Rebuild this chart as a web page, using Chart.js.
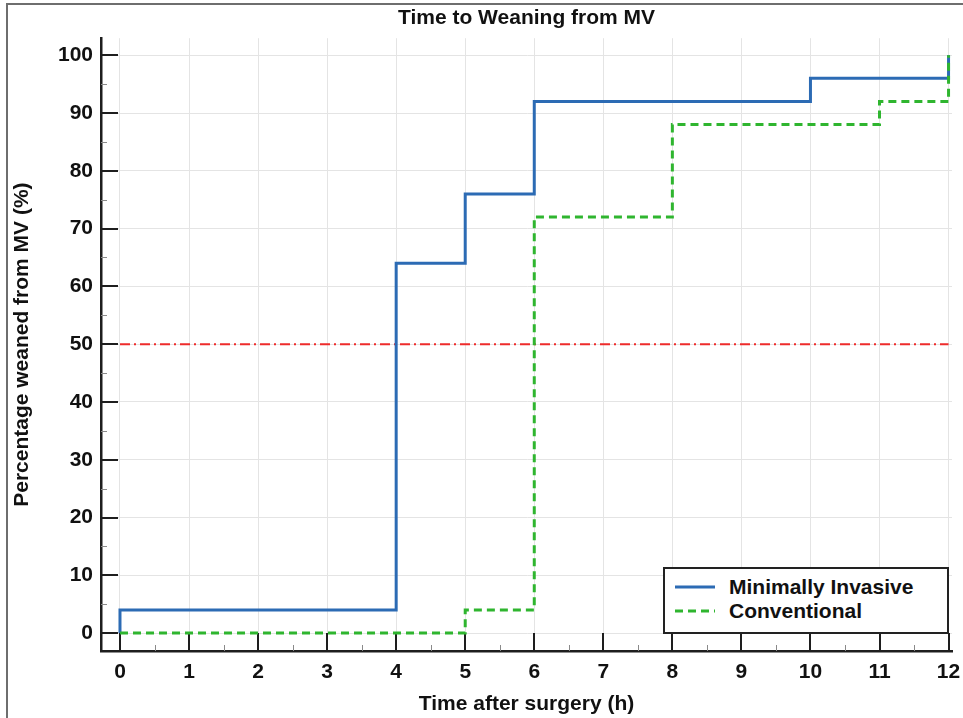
<!DOCTYPE html>
<html lang="en">
<head>
  <meta charset="UTF-8" />
  <title>Time to Weaning from MV</title>
  <script src="https://cdn.jsdelivr.net/npm/chart.js"></script>
  <style>
    body {
      margin: 0;
      padding: 0;
      background: #ffffff;
      font-family: 'Liberation Sans', Arial, sans-serif;
    }
    .wrap {
      position: relative;
      width: 963px;
      height: 718px;
      overflow: hidden;
    }
    .legend {
      position: absolute;
      left: 663px;
      top: 567px;
      width: 286px;
      height: 67px;
      box-sizing: border-box;
      border: 2px solid #222;
      background: #fff;
      padding: 6px 0 0 10px;
    }
    .legend .row {
      display: flex;
      align-items: center;
      height: 24px;
      font-weight: bold;
      font-size: 21px;
      color: #111;
    }
    .legend svg {
      margin-right: 14px;
    }
  </style>
</head>
<body>
  <div class="wrap">
    <canvas id="kmChart" width="963" height="718"></canvas>
    <div class="legend" id="legend"></div>
  </div>

  <script>
    // series (time in hours, cumulative % weaned)
    const miLabel = "Minimally Invasive";
    const miTimes = [0, 0, 4, 5, 6, 10, 12];
    const miPct = [0, 4, 64, 76, 92, 96, 100];

    const convLabel = "Conventional";
    const convTimes = [0, 5, 6, 8, 11, 12];
    const convPct = [0, 4, 72, 88, 92, 100];

    const medianTimes = [0, 12];
    const medianPct = [50, 50];

    const xTicks = [0, 1, 2, 3, 4, 5, 6, 7, 8, 9, 10, 11, 12];
    const yTicks = [0, 10, 20, 30, 40, 50, 60, 70, 80, 90, 100];

    const chartTitle = "Time to Weaning from MV";
    const xTitle = "Time after surgery (h)";
    const yTitle = "Percentage weaned from MV (%)";

    const blue = "#2c6bb4";
    const green = "#2fb52f";
    const red = "#ee2b2b";
    const FONT = "'Liberation Sans', Arial, sans-serif";

    function toPoints(xs, ys) {
      return xs.map((x, i) => ({ x: x, y: ys[i] }));
    }

    // frame + inward tick marks
    const axisDecor = {
      id: 'axisDecor',
      beforeDraw(chart) {
        const ctx = chart.ctx;
        ctx.save();
        ctx.fillStyle = '#fff';
        ctx.fillRect(0, 0, chart.width, chart.height);
        ctx.strokeStyle = '#6e6e6e';
        ctx.lineWidth = 2;
        ctx.beginPath();
        ctx.moveTo(7, chart.height);
        ctx.lineTo(7, 4);
        ctx.lineTo(chart.width, 4);
        ctx.stroke();
        ctx.restore();
      },
      beforeDatasetsDraw(chart) {
        const ctx = chart.ctx;
        const x = chart.scales.x, y = chart.scales.y;
        const bottom = chart.chartArea.bottom, left = chart.chartArea.left;
        ctx.save();
        // minor
        ctx.strokeStyle = '#8a8a8a';
        ctx.lineWidth = 1;
        ctx.beginPath();
        for (let i = 0; i < xTicks.length - 1; i++) {
          const px = Math.round(x.getPixelForValue(xTicks[i] + 0.5)) + 0.5;
          ctx.moveTo(px, bottom);
          ctx.lineTo(px, bottom - 6);
        }
        for (let i = 0; i < yTicks.length - 1; i++) {
          const py = Math.round(y.getPixelForValue(yTicks[i] + 5)) + 0.5;
          ctx.moveTo(left, py);
          ctx.lineTo(left + 6, py);
        }
        ctx.stroke();
        // major
        ctx.strokeStyle = '#1e1e1e';
        ctx.lineWidth = 2;
        ctx.beginPath();
        xTicks.forEach(v => {
          const px = Math.round(x.getPixelForValue(v));
          ctx.moveTo(px, bottom);
          ctx.lineTo(px, bottom - 18);
        });
        yTicks.forEach(v => {
          const py = Math.round(y.getPixelForValue(v));
          ctx.moveTo(left, py);
          ctx.lineTo(left + 17, py);
        });
        ctx.stroke();
        ctx.restore();
      }
    };

    const chart = new Chart(document.getElementById('kmChart').getContext('2d'), {
      type: 'line',
      data: {
        datasets: [
          {
            label: 'median',
            data: toPoints(medianTimes, medianPct),
            borderColor: red,
            borderWidth: 2,
            borderDash: [10, 4, 2, 4],
            pointRadius: 0,
            fill: false,
            order: 2
          },
          {
            label: miLabel,
            data: toPoints(miTimes, miPct),
            borderColor: blue,
            borderWidth: 3,
            stepped: 'before',
            pointRadius: 0,
            fill: false,
            order: 1
          },
          {
            label: convLabel,
            data: toPoints(convTimes, convPct),
            borderColor: green,
            borderWidth: 3,
            borderDash: [8, 5],
            stepped: 'before',
            pointRadius: 0,
            fill: false,
            order: 0
          }
        ]
      },
      options: {
        responsive: false,
        animation: false,
        devicePixelRatio: 1,
        layout: { padding: { left: 0, right: 11, top: 0, bottom: 0 } },
        plugins: {
          legend: { display: false },
          tooltip: { enabled: false },
          title: {
            display: true,
            fullSize: false,
            text: chartTitle,
            color: '#111',
            font: { family: FONT, size: 21, weight: 'bold', lineHeight: 1.2 },
            padding: { top: 6, bottom: 7 }
          }
        },
        scales: {
          x: {
            type: 'linear',
            min: -0.275,
            max: 12.05,
            afterBuildTicks: s => { s.ticks = xTicks.map(v => ({ value: v })); },
            afterFit: s => { s.height = 67; s.paddingLeft = 0; s.paddingRight = 0; },
            grid: { color: '#e4e4e4', drawTicks: false },
            border: { display: true, color: '#1e1e1e', width: 2.5 },
            ticks: {
              color: '#111',
              padding: 9,
              font: { family: FONT, size: 21, weight: 'bold' }
            },
            title: {
              display: true,
              text: xTitle,
              color: '#111',
              font: { family: FONT, size: 21, weight: 'bold', lineHeight: 1.2 },
              padding: { top: 0, bottom: 1 }
            }
          },
          y: {
            min: -3.1,
            max: 102.95,
            afterBuildTicks: s => { s.ticks = yTicks.map(v => ({ value: v })); },
            afterFit: s => { s.width = 101; s.paddingTop = 0; s.paddingBottom = 0; },
            grid: { color: '#e4e4e4', drawTicks: false },
            border: { display: true, color: '#1e1e1e', width: 2.5 },
            ticks: {
              color: '#111',
              padding: 8,
              font: { family: FONT, size: 21, weight: 'bold' }
            },
            title: {
              display: true,
              text: yTitle,
              color: '#111',
              font: { family: FONT, size: 21, weight: 'bold', lineHeight: 1.2 },
              padding: { top: 10, bottom: 0 }
            }
          }
        }
      },
      plugins: [axisDecor]
    });

    // legend box (bottom right inside the plot)
    const legendItems = [
      { text: miLabel, color: blue, dash: '' },
      { text: convLabel, color: green, dash: '8,5' }
    ];
    const legendEl = document.getElementById('legend');
    legendItems.forEach(item => {
      const row = document.createElement('div');
      row.className = 'row';
      row.innerHTML =
        '<svg width="40" height="6"><line x1="0" y1="3" x2="40" y2="3" stroke="' + item.color +
        '" stroke-width="3"' + (item.dash ? ' stroke-dasharray="' + item.dash + '"' : '') + '/></svg>';
      const span = document.createElement('span');
      span.textContent = item.text;
      row.appendChild(span);
      legendEl.appendChild(row);
    });
  </script>
</body>
</html>
